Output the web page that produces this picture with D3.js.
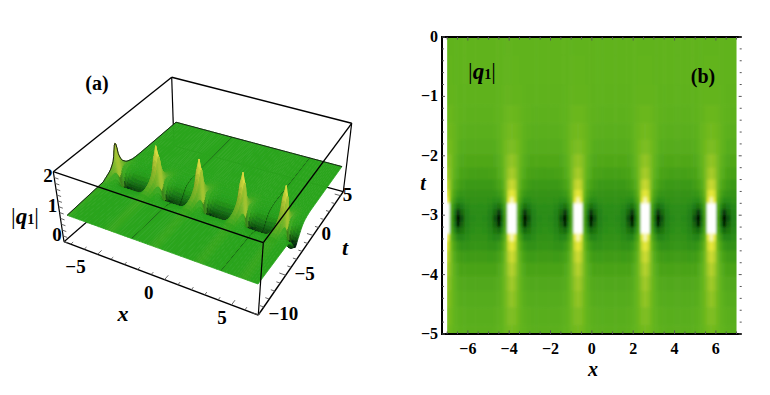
<!DOCTYPE html>
<html>
<head>
<meta charset="utf-8">
<script src="https://cdn.jsdelivr.net/npm/d3@7"></script>
<style>
  html, body { margin: 0; padding: 0; background: #fff; }
  text { font-family: "Liberation Serif", serif; font-weight: bold; fill: #000; }
</style>
</head>
<body>
<div id="chart"></div>
<script>
// values (b)
var peakX = [-7.1, -3.87, -0.67, 2.58, 5.78];
// distance from a peak along x, one half period (the plot is mirrored around each peak)
var offsetX = [0, 0.15, 0.3, 0.45, 0.62, 0.8, 1.05, 1.3, 1.6];
var rowT = [0, -0.6, -1, -1.3, -1.6, -1.85, -2.1, -2.3, -2.5, -2.65, -2.75, -2.85, -2.95, -3.05, -3.15, -3.25, -3.37, -3.5, -3.7, -3.9, -4.15, -4.4, -4.7, -5];
var qRows = [
  [1.00, 1.00, 1.00, 1.00, 1.00, 1.00, 1.00, 1.00, 1.00],
  [1.01, 1.01, 1.01, 1.00, 1.00, 1.00, 1.00, 1.00, 1.00],
  [1.02, 1.02, 1.02, 1.01, 1.00, 0.995, 0.995, 0.995, 0.995],
  [1.05, 1.05, 1.04, 1.02, 1.00, 0.99, 0.985, 0.985, 0.985],
  [1.09, 1.08, 1.06, 1.03, 0.995, 0.98, 0.97, 0.97, 0.97],
  [1.14, 1.12, 1.08, 1.03, 0.985, 0.955, 0.95, 0.95, 0.95],
  [1.22, 1.19, 1.11, 1.02, 0.96, 0.92, 0.91, 0.91, 0.91],
  [1.30, 1.25, 1.12, 0.99, 0.93, 0.885, 0.87, 0.86, 0.86],
  [1.44, 1.36, 1.12, 0.945, 0.88, 0.84, 0.82, 0.82, 0.82],
  [1.58, 1.48, 1.08, 0.89, 0.82, 0.795, 0.79, 0.79, 0.79],
  [1.72, 1.58, 1.01, 0.835, 0.75, 0.75, 0.77, 0.775, 0.775],
  [1.88, 1.80, 0.97, 0.75, 0.65, 0.68, 0.735, 0.76, 0.76],
  [2.10, 1.95, 0.945, 0.68, 0.53, 0.615, 0.71, 0.745, 0.75],
  [2.35, 2.00, 0.92, 0.64, 0.46, 0.58, 0.70, 0.74, 0.75],
  [2.10, 1.95, 0.935, 0.67, 0.505, 0.605, 0.71, 0.745, 0.76],
  [1.88, 1.80, 0.97, 0.735, 0.615, 0.66, 0.725, 0.76, 0.77],
  [1.72, 1.60, 1.01, 0.825, 0.725, 0.725, 0.75, 0.775, 0.78],
  [1.58, 1.46, 1.08, 0.89, 0.81, 0.78, 0.78, 0.795, 0.80],
  [1.46, 1.36, 1.12, 0.945, 0.87, 0.835, 0.83, 0.835, 0.835],
  [1.36, 1.28, 1.12, 0.985, 0.92, 0.885, 0.88, 0.88, 0.88],
  [1.28, 1.22, 1.10, 1.00, 0.95, 0.925, 0.92, 0.92, 0.92],
  [1.22, 1.18, 1.08, 1.01, 0.97, 0.95, 0.945, 0.945, 0.945],
  [1.15, 1.13, 1.07, 1.01, 0.985, 0.97, 0.96, 0.96, 0.96],
  [1.10, 1.08, 1.05, 1.01, 0.99, 0.98, 0.97, 0.97, 0.97]
];
var flatQ = [1.00, 1.00, 1.00, 1.00, 1.00, 1.00, 1.00, 1.00, 1.00];

var densityXTicks = [-6, -4, -2, 0, 2, 4, 6];
var densityTTicks = [0, -1, -2, -3, -4, -5];
var surfaceXTicks = [-5, 0, 5];
var surfaceTTicks = [-10, -5, 0, 5];
var surfaceZTicks = [0, 1, 2];

var width = 770, height = 395;
var svg = d3.select("#chart").append("svg")
    .attr("width", width)
    .attr("height", height)
    .style("display", "block");

var defs = svg.append("defs");
defs.append("filter").attr("id", "soft").attr("x", "-5%").attr("y", "-5%").attr("width", "110%").attr("height", "110%")
  .append("feGaussianBlur").attr("stdDeviation", "1 1.4");
defs.append("filter").attr("id", "softer").attr("x", "-5%").attr("y", "-5%").attr("width", "110%").attr("height", "110%")
  .append("feGaussianBlur").attr("stdDeviation", 0.6);

function minus(v) { return String(v).replace("-", "\u2212"); }

// the |q1| label
function qLabel(sel, x, y, size) {
  var t = sel.append("text").attr("x", x).attr("y", y).attr("font-size", size).attr("text-anchor", "middle");
  t.append("tspan").attr("font-weight", "normal").text("|");
  t.append("tspan").attr("font-style", "italic").text("q");
  t.append("tspan").attr("font-size", size * 0.62).text("1");
  t.append("tspan").attr("font-weight", "normal").text("|");
}

// sample columns: every peak with its mirrored half period
var sampleX = [];
peakX.forEach(function(p) {
  for (var k = offsetX.length - 1; k > 0; k--) sampleX.push({x: p - offsetX[k], k: k});
  for (var j = 0; j < offsetX.length; j++) sampleX.push({x: p + offsetX[j], k: j});
});
sampleX = sampleX.filter(function(d) { return d.x >= -8; }).sort(function(a, b) { return a.x - b.x; });

// ---------- (b) density plot ----------
var xB = d3.scaleLinear().domain([-7.25, 7.25]).range([442, 741.7]);
var yB = d3.scaleLinear().domain([0, -5]).range([37, 334]);
var colorB = d3.scaleLinear()
    .domain([0.46, 0.53, 0.62, 0.75, 0.86, 1, 1.15, 1.35, 1.58, 1.8])
    .range(["#000000", "#07300a", "#156a10", "#2a8c14", "#45a018", "#60b31c", "#7fbe22", "#b4d02c", "#e8e83a", "#ffffff"])
    .clamp(true);

defs.append("clipPath").attr("id", "clipB").append("rect")
    .attr("x", xB(-7)).attr("y", yB(0))
    .attr("width", xB(7) - xB(-7)).attr("height", yB(-5) - yB(0));

var cells = svg.append("g").attr("clip-path", "url(#clipB)")
  .append("g").attr("filter", "url(#soft)");

function edges(vals, lo, hi) {
  return vals.map(function(v, i) {
    return [i ? (vals[i - 1] + v) / 2 : lo, i < vals.length - 1 ? (v + vals[i + 1]) / 2 : hi];
  });
}
var xEdges = edges(sampleX.map(function(d) { return d.x; }), -8.5, 8);
var tEdges = edges(rowT, 0.3, -5.3);
rowT.forEach(function(t, i) {
  cells.selectAll(null)
    .data(sampleX)
    .enter().append("rect")
      .attr("x", function(d, j) { return xB(xEdges[j][0]); })
      .attr("y", yB(tEdges[i][0]))
      .attr("width", function(d, j) { return xB(xEdges[j][1]) - xB(xEdges[j][0]) + 0.6; })
      .attr("height", yB(tEdges[i][1]) - yB(tEdges[i][0]) + 0.6)
      .attr("fill", function(d) { return colorB(qRows[i][d.k]); });
});

// frame, no line on the right side
var frame = svg.append("g");
frame.append("path")
    .attr("d", "M" + xB(7.25) + "," + yB(0) + "H" + xB(-7.25) + "V" + yB(-5) + "H" + xB(7.25))
    .attr("fill", "none").attr("stroke", "#000").attr("stroke-width", 2);

var xMinor = d3.range(-7, 7.25, 0.5), tMinor = d3.range(0, -5.01, -0.2);
var tickColor = "#555";
[yB(0), yB(-5)].forEach(function(y, n) {
  var dir = n ? -1 : 1;
  frame.selectAll(null).data(xMinor).enter().append("line")
    .attr("x1", function(d) { return xB(d); }).attr("x2", function(d) { return xB(d); })
    .attr("y1", y).attr("y2", function(d) { return y + dir * (d % 2 === 0 ? 3.5 : 2.5); })
    .attr("stroke", tickColor).attr("stroke-width", 1);
});
[xB(-7.25), xB(7.25)].forEach(function(x, n) {
  var dir = n ? -1 : 1;
  frame.selectAll(null).data(tMinor).enter().append("line")
    .attr("y1", function(d) { return yB(d); }).attr("y2", function(d) { return yB(d); })
    .attr("x1", x).attr("x2", function(d, i) { return x + dir * (i % 5 === 0 ? 3 : 2); })
    .attr("stroke", tickColor).attr("stroke-width", 1);
});

svg.append("g").selectAll("text").data(densityXTicks).enter().append("text")
    .attr("x", function(d) { return xB(d); }).attr("y", 354)
    .attr("text-anchor", "middle").attr("font-size", 16)
    .text(minus);
svg.append("g").selectAll("text").data(densityTTicks).enter().append("text")
    .attr("x", 438).attr("y", function(d) { return yB(d) + 5; })
    .attr("text-anchor", "end").attr("font-size", 16)
    .text(minus);
svg.append("text").attr("x", 593).attr("y", 376).attr("text-anchor", "middle")
    .attr("font-size", 20).attr("font-style", "italic").text("x");
svg.append("text").attr("x", 423).attr("y", 190).attr("text-anchor", "middle")
    .attr("font-size", 20).attr("font-style", "italic").text("t");
qLabel(svg, 482, 79, 23);
svg.append("text").attr("x", 703).attr("y", 83).attr("text-anchor", "middle")
    .attr("font-size", 20).text("(b)");

// ---------- (a) surface plot ----------
var xA = d3.scaleLinear().domain([-7.5, 7]).range([0, 1]);
var tA = d3.scaleLinear().domain([-10, 5.5]).range([0, 1]);
var zA = d3.scaleLinear().domain([0, 2.4]).range([0, 1]);

// box corners on screen, bottom then top, going x-t-, x+t-, x+t+, x-t+
var low = [[64, 241.7], [258.3, 315], [343.3, 191.7], [174, 146]];
var high = [[53.3, 171.7], [263.3, 242.7], [351.7, 123.3], [171.7, 77.3]];

function project(x, t, z) {
  var u = xA(x), v = tA(t), w = zA(z);
  function at(c) {
    var a = c[0][0] + (c[1][0] - c[0][0]) * u, b = c[0][1] + (c[1][1] - c[0][1]) * u,
        d = c[3][0] + (c[2][0] - c[3][0]) * u, e = c[3][1] + (c[2][1] - c[3][1]) * u;
    return [a + (d - a) * v, b + (e - b) * v];
  }
  var p = at(low), q = at(high);
  return [p[0] + (q[0] - p[0]) * w, p[1] + (q[1] - p[1]) * w];
}

var line = d3.line();
var box = svg.append("g");
function edge(sel, a, b, w) {
  sel.append("path").attr("d", line([a, b])).attr("fill", "none")
    .attr("stroke", "#000").attr("stroke-width", w);
}

// hidden edges go under the surface
edge(box, low[0], low[3], 1.2);
edge(box, low[2], low[3], 1.2);
edge(box, low[3], high[3], 1.2);

// surface rows from the far side to the near side
var surfaceT = [5].concat(rowT, [-10]);
var surfaceQ = [flatQ].concat(qRows, [flatQ]);
var surfaceX = sampleX.filter(function(d) { return d.x >= -7 && d.x <= 7; });
// the dips read deeper in the 3D view than the colours of (b) suggest
function height3d(v) { return v < 1 ? Math.max(1 - (1 - v) * 2, 0.38) : v; }
var colorA = d3.scaleLinear()
    .domain([0.38, 0.46, 0.58, 0.74, 0.88, 1, 1.25, 1.6, 2.3])
    .range(["#03150a", "#073a0c", "#126212", "#1f8a16", "#27a01c", "#2ba51e", "#6ab026", "#98b82c", "#f0e84a"]);

var surface = svg.append("g").attr("filter", "url(#softer)");
d3.range(surfaceT.length - 1).forEach(function(i) {
  d3.range(surfaceX.length - 1).forEach(function(j) {
    var a = surfaceX[j], b = surfaceX[j + 1];
    var z = [surfaceQ[i][a.k], surfaceQ[i][b.k], surfaceQ[i + 1][b.k], surfaceQ[i + 1][a.k]].map(height3d);
    var c = colorA(d3.mean(z));
    // side light: rising flank of a peak is darker, falling flank is lit
    var s = Math.max(-1, Math.min(1, ((z[1] + z[2] - z[0] - z[3]) / 2 / (b.x - a.x)) / 6));
    c = s > 0 ? d3.interpolateRgb(c, "#0a3a0a")(0.45 * s) : d3.interpolateRgb(c, "#e0e040")(-0.35 * s);
    surface.append("path")
      .attr("d", line([
        project(a.x, surfaceT[i], z[0]),
        project(b.x, surfaceT[i], z[1]),
        project(b.x, surfaceT[i + 1], z[2]),
        project(a.x, surfaceT[i + 1], z[3])
      ]) + "Z")
      .attr("fill", c).attr("stroke", c).attr("stroke-width", 0.8);
  });
});

// dark outline on the far edges of the surface
surface.append("path")
  .attr("d", line(surfaceT.map(function(t, i) { return project(surfaceX[0].x, t, height3d(surfaceQ[i][surfaceX[0].k])); })))
  .attr("fill", "none").attr("stroke", "#111").attr("stroke-width", 0.9);
surface.append("path")
  .attr("d", line(surfaceX.map(function(d) { return project(d.x, 5, 1); })))
  .attr("fill", "none").attr("stroke", "#111").attr("stroke-width", 0.9);

// edges in front
var front = svg.append("g");
edge(front, high[0], high[3], 1.4);
edge(front, high[3], high[2], 1.4);
edge(front, high[2], low[2], 1.2);
edge(front, high[0], high[1], 1.4);
edge(front, high[1], high[2], 1.4);
edge(front, high[1], low[1], 1.2);
edge(front, high[0], low[0], 1.2);
edge(front, low[0], low[1], 1.4);
edge(front, low[1], low[2], 1.4);

// ticks along the three labelled edges
function ticks(vals, from, to) {
  front.selectAll(null).data(vals).enter().append("path")
    .attr("d", function(d) { return line([from(d), to(d)]); })
    .attr("stroke", "#555").attr("stroke-width", 0.9);
}
ticks(d3.range(-7, 7.01, 1),
  function(d) { return project(d, -10, 0); },
  function(d) { return project(d, -10 + (d % 5 === 0 ? 0.6 : 0.35), 0); });
ticks(d3.range(-10, 5.01, 1),
  function(d) { return project(7, d, 0); },
  function(d) { return project(7 - (d % 5 === 0 ? 0.5 : 0.3), d, 0); });
ticks(d3.range(0, 2.21, 0.2),
  function(d) { return project(-7.5, -10, d); },
  function(d) { return project(-7.5 + 0.3, -10, d); });

// tick labels
var labelsA = svg.append("g").attr("font-size", 19).attr("text-anchor", "middle");
var xDx = d3.scaleLinear().domain([-5, 5]).range([-22, -9.5]);
labelsA.selectAll(null).data(surfaceXTicks).enter().append("text")
    .attr("x", function(d) { return project(d, -10, 0)[0] + xDx(d); })
    .attr("y", function(d) { return project(d, -10, 0)[1] + 19; })
    .text(minus);
var tDx = d3.scaleLinear().domain([-10, 5]).range([25, 7]);
labelsA.selectAll(null).data(surfaceTTicks).enter().append("text")
    .attr("x", function(d) { return project(7, d, 0)[0] + tDx(d); })
    .attr("y", function(d) { return project(7, d, 0)[1] + 5; })
    .text(minus);
labelsA.selectAll(null).data(surfaceZTicks).enter().append("text")
    .attr("x", function(d) { return project(-7.5, -10, d)[0] - 7; })
    .attr("y", function(d) { return project(-7.5, -10, d)[1] - 1; })
    .text(minus);

svg.append("text").attr("x", 123).attr("y", 321).attr("text-anchor", "middle")
    .attr("font-size", 22).attr("font-style", "italic").text("x");
svg.append("text").attr("x", 345).attr("y", 255).attr("text-anchor", "middle")
    .attr("font-size", 22).attr("font-style", "italic").text("t");
qLabel(svg, 25, 224, 23);
svg.append("text").attr("x", 97).attr("y", 90).attr("text-anchor", "middle")
    .attr("font-size", 20).text("(a)");
</script>
</body>
</html>
